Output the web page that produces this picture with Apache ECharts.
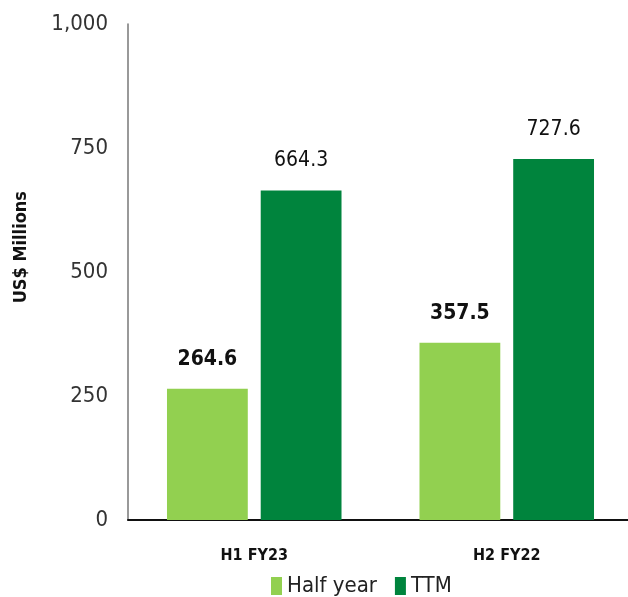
<!DOCTYPE html>
<html>
<head>
<meta charset="utf-8">
<style>
  html, body { margin: 0; padding: 0; background: #fff; overflow: hidden; }
  #chart { width: 633px; height: 597px; }
</style>
<script src="https://cdn.jsdelivr.net/npm/echarts@6/dist/echarts.min.js"></script>
</head>
<body>
<div id="chart"></div>
<script>
// Revenue by period, US$ millions
const categories = ['H1 FY23', 'H2 FY22'];
const halfYear = [264.6, 357.5];
const ttm = [664.3, 727.6];
const seriesNames = ['Half year', 'TTM'];
const yTicks = [0, 250, 500, 750, 1000];

const FONT = '"DejaVu Sans Condensed", "Liberation Sans", sans-serif';
const LIGHT = '#92D050';
const DARK = '#00843D';

const chart = echarts.init(document.getElementById('chart'), null, { renderer: 'canvas' });

chart.setOption({
  animation: false,
  backgroundColor: '#fff',
  // the plot runs a few pixels past the right edge of the window
  grid: { left: 128, right: 0, top: 24, bottom: 77, containLabel: false },
  graphic: [{
    type: 'text',
    left: 12,
    top: 191,
    rotation: Math.PI / 2,
    style: {
      text: 'US$ Millions',
      font: 'bold 18px "DejaVu Sans Condensed", "DejaVu Sans", sans-serif',
      fill: '#111'
    }
  }],
  legend: {
    data: seriesNames,
    left: 266,
    top: 570,
    itemWidth: 11,
    itemHeight: 18,
    itemGap: 18,
    icon: 'rect',
    textStyle: { fontFamily: FONT, fontSize: 22, color: '#222' }
  },
  xAxis: {
    type: 'category',
    data: categories,
    axisLine: { lineStyle: { color: '#111', width: 2 } },
    axisTick: { show: false },
    axisLabel: {
      margin: 28,
      fontFamily: FONT,
      fontWeight: 'bold',
      fontSize: 16,
      color: '#111'
    }
  },
  yAxis: {
    type: 'value',
    min: yTicks[0],
    max: yTicks[yTicks.length - 1],
    interval: yTicks[1] - yTicks[0],
    axisLine: { show: true, lineStyle: { color: '#777', width: 1.5 } },
    axisTick: { show: false },
    splitLine: { show: false },
    axisLabel: {
      margin: 20,
      fontFamily: FONT,
      fontSize: 22,
      color: '#333',
      formatter: v => v.toLocaleString('en-US')
    }
  },
  series: [
    {
      name: seriesNames[0],
      type: 'bar',
      data: halfYear,
      barWidth: '32%',
      barGap: '16%',
      itemStyle: { color: LIGHT },
      label: {
        show: true,
        position: 'top',
        distance: 19,
        fontFamily: FONT,
        fontWeight: 'bold',
        fontSize: 21,
        color: '#111',
        formatter: p => p.value.toFixed(1)
      }
    },
    {
      name: seriesNames[1],
      type: 'bar',
      data: ttm,
      barWidth: '32%',
      itemStyle: { color: DARK },
      label: {
        show: true,
        position: 'top',
        distance: 19,
        fontFamily: FONT,
        fontSize: 21,
        color: '#111',
        formatter: p => p.value.toFixed(1)
      }
    }
  ]
});
</script>
</body>
</html>
